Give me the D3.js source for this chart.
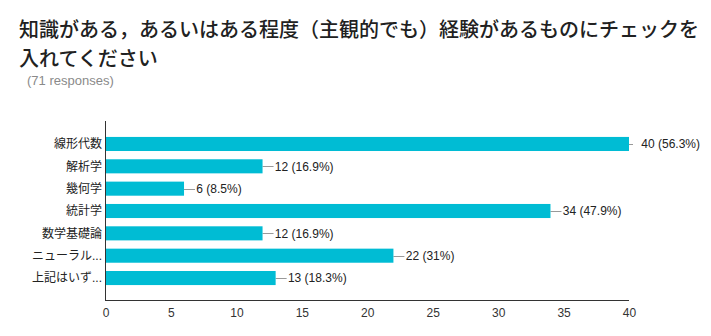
<!DOCTYPE html>
<html>
<head>
<meta charset="utf-8">
<script src="https://cdn.jsdelivr.net/npm/d3@7"></script>
<style>
  html, body { margin: 0; padding: 0; background: #fff; }
  svg { display: block; }
</style>
</head>
<body>
<svg id="chart" width="711" height="336"></svg>
<script>
const titleLines = ["知識がある，あるいはある程度（主観的でも）経験があるものにチェックを", "入れてください"];
const subtitle = "(71 responses)";
const categories = ["線形代数", "解析学", "幾何学", "統計学", "数学基礎論", "ニューラル...", "上記はいず..."];
const values = [40, 12, 6, 34, 12, 22, 13];
const valueLabels = ["40 (56.3%)", "12 (16.9%)", "6 (8.5%)", "34 (47.9%)", "12 (16.9%)", "22 (31%)", "13 (18.3%)"];
const xTicks = [0, 5, 10, 15, 20, 25, 30, 35, 40];

const svg = d3.select("#chart");
const latin = "'Liberation Sans', Arial, 'Noto Sans CJK JP', sans-serif";
const cjk = "'Noto Sans CJK JP', 'Liberation Sans', sans-serif";

// Title
svg.append("g").selectAll("text").data(titleLines).join("text")
  .attr("x", 19).attr("y", (d, i) => 37 + i * 29)
  .attr("font-family", cjk).attr("font-size", 20).attr("font-weight", 500).attr("fill", "#212121")
  .text(d => d);
svg.append("text").attr("x", 27).attr("y", 85)
  .attr("font-family", latin).attr("font-size", 13).attr("fill", "#8a8a8a")
  .text(subtitle);

const x = d3.scaleLinear().domain([0, 40]).range([105.5, 629]);
const y = d3.scaleBand().domain(categories).range([132.8, 289.2]).paddingInner(0.37).paddingOuter(0.185);

const data = categories.map((c, i) => ({c, v: values[i], l: valueLabels[i]}));

// leader lines
svg.append("g").selectAll("line").data(data).join("line")
  .attr("x1", d => x(d.v)).attr("x2", d => Math.min(x(d.v) + 11, x(40) + 4))
  .attr("y1", d => Math.round(y(d.c) + y.bandwidth() / 2) + 0.5)
  .attr("y2", d => Math.round(y(d.c) + y.bandwidth() / 2) + 0.5)
  .attr("stroke", "#999").attr("stroke-width", 1);

// bars
svg.append("g").selectAll("rect").data(data).join("rect")
  .attr("x", x(0)).attr("y", d => y(d.c))
  .attr("width", d => x(d.v) - x(0)).attr("height", y.bandwidth())
  .attr("fill", "#00bcd4");

// value labels
svg.append("g").selectAll("text").data(data).join("text")
  .attr("x", d => x(d.v) + 12.3).attr("y", d => y(d.c) + y.bandwidth() / 2)
  .attr("dy", "0.36em")
  .attr("font-family", latin).attr("font-size", 12).attr("fill", "#222")
  .text(d => d.l);

// category labels
svg.append("g").selectAll("text").data(data).join("text")
  .attr("x", 102).attr("y", d => y(d.c) + y.bandwidth() / 2)
  .attr("dy", "0.36em").attr("text-anchor", "end")
  .attr("font-family", latin).attr("font-size", 12).attr("fill", "#222")
  .text(d => d.c);

// axes
const xAxis = d3.axisBottom(x).tickValues(xTicks).tickSize(0).tickPadding(8);
const gx = svg.append("g").attr("transform", "translate(0,300.5)").call(xAxis);
gx.select(".domain").attr("stroke", "#333").attr("d", `M${x(0) - 0.5},0H${x(40)}`);
gx.selectAll("text").attr("font-family", latin).attr("font-size", 12).attr("fill", "#333");

svg.append("line").attr("x1", 105.5).attr("x2", 105.5).attr("y1", 121).attr("y2", 301)
  .attr("stroke", "#333").attr("stroke-width", 1);
</script>
</body>
</html>
